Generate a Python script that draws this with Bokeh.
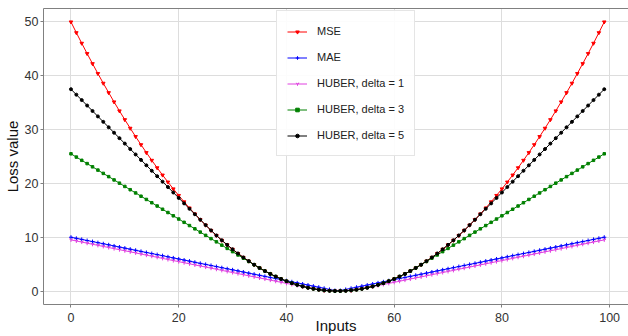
from bokeh.plotting import figure
from bokeh.embed import file_html
from bokeh.resources import INLINE
from bokeh.models import Range1d, LinearAxis, FixedTicker, Legend

inputs = list(range(100))

mse = [50.00, 48.00, 46.04, 44.12, 42.25, 40.41, 38.61, 36.86, 35.14, 33.47,
       31.84, 30.25, 28.70, 27.19, 25.72, 24.29, 22.90, 21.55, 20.25, 18.98,
       17.76, 16.57, 15.43, 14.33, 13.27, 12.25, 11.27, 10.33, 9.43, 8.58,
       7.76, 6.98, 6.25, 5.56, 4.90, 4.29, 3.72, 3.19, 2.70, 2.25,
       1.84, 1.47, 1.15, 0.86, 0.62, 0.41, 0.25, 0.13, 0.05, 0.01,
       0.01, 0.05, 0.13, 0.25, 0.41, 0.62, 0.86, 1.15, 1.47, 1.84,
       2.25, 2.70, 3.19, 3.72, 4.29, 4.90, 5.56, 6.25, 6.98, 7.76,
       8.58, 9.43, 10.33, 11.27, 12.25, 13.27, 14.33, 15.43, 16.57, 17.76,
       18.98, 20.25, 21.55, 22.90, 24.29, 25.72, 27.19, 28.70, 30.25, 31.84,
       33.47, 35.14, 36.86, 38.61, 40.41, 42.25, 44.12, 46.04, 48.00, 50.00]

mae = [10.00, 9.80, 9.60, 9.39, 9.19, 8.99, 8.79, 8.59, 8.38, 8.18,
       7.98, 7.78, 7.58, 7.37, 7.17, 6.97, 6.77, 6.57, 6.36, 6.16,
       5.96, 5.76, 5.56, 5.35, 5.15, 4.95, 4.75, 4.55, 4.34, 4.14,
       3.94, 3.74, 3.54, 3.33, 3.13, 2.93, 2.73, 2.53, 2.32, 2.12,
       1.92, 1.72, 1.52, 1.31, 1.11, 0.91, 0.71, 0.51, 0.30, 0.10,
       0.10, 0.30, 0.51, 0.71, 0.91, 1.11, 1.31, 1.52, 1.72, 1.92,
       2.12, 2.32, 2.53, 2.73, 2.93, 3.13, 3.33, 3.54, 3.74, 3.94,
       4.14, 4.34, 4.55, 4.75, 4.95, 5.15, 5.35, 5.56, 5.76, 5.96,
       6.16, 6.36, 6.57, 6.77, 6.97, 7.17, 7.37, 7.58, 7.78, 7.98,
       8.18, 8.38, 8.59, 8.79, 8.99, 9.19, 9.39, 9.60, 9.80, 10.00]

huber_1 = [9.50, 9.30, 9.10, 8.89, 8.69, 8.49, 8.29, 8.09, 7.88, 7.68,
           7.48, 7.28, 7.08, 6.87, 6.67, 6.47, 6.27, 6.07, 5.86, 5.66,
           5.46, 5.26, 5.06, 4.85, 4.65, 4.45, 4.25, 4.05, 3.84, 3.64,
           3.44, 3.24, 3.04, 2.83, 2.63, 2.43, 2.23, 2.03, 1.82, 1.62,
           1.42, 1.22, 1.02, 0.81, 0.61, 0.41, 0.25, 0.13, 0.05, 0.01,
           0.01, 0.05, 0.13, 0.25, 0.41, 0.61, 0.81, 1.02, 1.22, 1.42,
           1.62, 1.82, 2.03, 2.23, 2.43, 2.63, 2.83, 3.04, 3.24, 3.44,
           3.64, 3.84, 4.05, 4.25, 4.45, 4.65, 4.85, 5.06, 5.26, 5.46,
           5.66, 5.86, 6.07, 6.27, 6.47, 6.67, 6.87, 7.08, 7.28, 7.48,
           7.68, 7.88, 8.09, 8.29, 8.49, 8.69, 8.89, 9.10, 9.30, 9.50]

huber_3 = [25.50, 24.89, 24.29, 23.68, 23.08, 22.47, 21.86, 21.26, 20.65, 20.05,
           19.44, 18.83, 18.23, 17.62, 17.02, 16.41, 15.80, 15.20, 14.59, 13.98,
           13.38, 12.77, 12.17, 11.56, 10.95, 10.35, 9.74, 9.14, 8.53, 7.92,
           7.32, 6.71, 6.11, 5.50, 4.89, 4.29, 3.72, 3.19, 2.70, 2.25,
           1.84, 1.47, 1.15, 0.86, 0.62, 0.41, 0.25, 0.13, 0.05, 0.01,
           0.01, 0.05, 0.13, 0.25, 0.41, 0.62, 0.86, 1.15, 1.47, 1.84,
           2.25, 2.70, 3.19, 3.72, 4.29, 4.89, 5.50, 6.11, 6.71, 7.32,
           7.92, 8.53, 9.14, 9.74, 10.35, 10.95, 11.56, 12.17, 12.77, 13.38,
           13.98, 14.59, 15.20, 15.80, 16.41, 17.02, 17.62, 18.23, 18.83, 19.44,
           20.05, 20.65, 21.26, 21.86, 22.47, 23.08, 23.68, 24.29, 24.89, 25.50]

huber_5 = [37.50, 36.49, 35.48, 34.47, 33.46, 32.45, 31.44, 30.43, 29.42, 28.41,
           27.40, 26.39, 25.38, 24.37, 23.36, 22.35, 21.34, 20.33, 19.32, 18.31,
           17.30, 16.29, 15.28, 14.27, 13.26, 12.25, 11.27, 10.33, 9.43, 8.58,
           7.76, 6.98, 6.25, 5.56, 4.90, 4.29, 3.72, 3.19, 2.70, 2.25,
           1.84, 1.47, 1.15, 0.86, 0.62, 0.41, 0.25, 0.13, 0.05, 0.01,
           0.01, 0.05, 0.13, 0.25, 0.41, 0.62, 0.86, 1.15, 1.47, 1.84,
           2.25, 2.70, 3.19, 3.72, 4.29, 4.90, 5.56, 6.25, 6.98, 7.76,
           8.58, 9.43, 10.33, 11.27, 12.25, 13.26, 14.27, 15.28, 16.29, 17.30,
           18.31, 19.32, 20.33, 21.34, 22.35, 23.36, 24.37, 25.38, 26.39, 27.40,
           28.41, 29.42, 30.43, 31.44, 32.45, 33.46, 34.47, 35.48, 36.49, 37.50]

x_ticks = [0, 20, 40, 60, 80, 100]
y_ticks = [0, 10, 20, 30, 40, 50]

series = [
    ("MSE", mse, "#ff0000", "inverted_triangle", 3.5),
    ("MAE", mae, "#0000ff", "cross", 4),
    ("HUBER, delta = 1", huber_1, "#e040e0", "y", 4),
    ("HUBER, delta = 3", huber_3, "#008000", "square", 2.5),
    ("HUBER, delta = 5", huber_5, "#000000", "circle", 3),
]

FONT = "Liberation Sans"
SPINE = "#808080"

p = figure(width=628, height=336, output_backend="svg", toolbar_location=None,
           x_range=Range1d(-5.1, 103.5), y_range=Range1d(-2.5, 52.5),
           min_border_left=0, min_border_right=0, min_border_top=8, min_border_bottom=0)
p.outline_line_color = None
p.background_fill_color = "white"
p.border_fill_color = "white"

items = []
for name, vals, color, marker, size in series:
    r1 = p.line(inputs, vals, line_color=color, line_width=1)
    r2 = p.scatter(inputs, vals, marker=marker, size=size, line_color=color,
                   fill_color=color, line_width=1)
    items.append((name, [r1, r2]))

legend = Legend(items=items, location=(233, 148))
legend.label_text_font = FONT
legend.label_text_font_size = "11px"
legend.label_text_color = "#222222"
legend.label_height = 20
legend.glyph_height = 9
legend.glyph_width = 20
legend.label_standoff = 10
legend.padding = 10
legend.spacing = 6
legend.margin = 0
legend.border_line_color = "#cccccc"
legend.border_line_width = 1
legend.background_fill_color = "white"
legend.background_fill_alpha = 0.9
p.add_layout(legend, "center")

for ax in (p.xaxis[0], p.yaxis[0]):
    ax.axis_line_color = SPINE
    ax.major_tick_line_color = SPINE
    ax.major_tick_out = 3
    ax.major_tick_in = 0
    ax.minor_tick_line_color = None
    ax.major_label_text_font = FONT
    ax.major_label_text_font_size = "12.5px"
    ax.major_label_text_color = "#333333"
    ax.axis_label_text_font = FONT
    ax.axis_label_text_font_style = "normal"
    ax.axis_label_text_font_size = "15px"
    ax.axis_label_text_color = "#111111"

p.xaxis[0].major_label_standoff = 5
p.xaxis[0].axis_label_standoff = -8
p.yaxis[0].major_label_standoff = 2
p.yaxis[0].axis_label_standoff = 1

p.xaxis[0].ticker = FixedTicker(ticks=x_ticks)
p.yaxis[0].ticker = FixedTicker(ticks=y_ticks)
p.xaxis[0].axis_label = "Inputs"
p.yaxis[0].axis_label = "Loss value"

top = LinearAxis(ticker=FixedTicker(ticks=[]), axis_line_color=SPINE,
                 major_tick_line_color=None, minor_tick_line_color=None,
                 major_label_text_font_size="0px")
p.add_layout(top, "above")

p.grid.grid_line_color = "#dddddd"
p.grid.grid_line_width = 1
p.xgrid.ticker = FixedTicker(ticks=x_ticks)
p.ygrid.ticker = FixedTicker(ticks=y_ticks)

open("out.html", "w").write(file_html(p, INLINE))
